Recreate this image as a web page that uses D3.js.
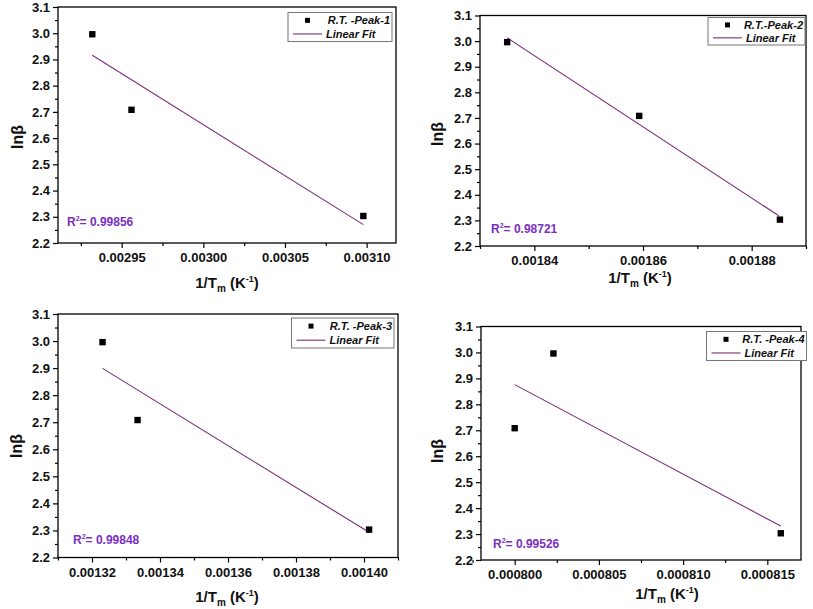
<!DOCTYPE html>
<html><head><meta charset="utf-8">
<script src="https://cdn.jsdelivr.net/npm/d3@7"></script>
<style>body{margin:0;background:#fff}svg{display:block}text{font-family:"Liberation Sans",Arial,sans-serif}</style>
</head><body>
<svg id="c" width="813" height="609"></svg>
<script>
// ---------- data ----------
const yTicks = [2.2, 2.3, 2.4, 2.5, 2.6, 2.7, 2.8, 2.9, 3.0, 3.1];
const yMinor = [2.25, 2.35, 2.45, 2.55, 2.65, 2.75, 2.85, 2.95, 3.05];

const peak1X = [0.002932, 0.002956, 0.003098];
const peak1Y = [2.996, 2.708, 2.303];
const peak1FitX = [0.002932, 0.003098];
const peak1FitY = [2.916, 2.270];
const peak1Ticks = [0.00295, 0.00300, 0.00305, 0.00310];
const peak1TickLabels = ["0.00295", "0.00300", "0.00305", "0.00310"];
const peak1Minor = [0.002925, 0.002975, 0.003025, 0.003075];
const peak1Domain = [0.002911, 0.003118];

const peak2X = [0.001835, 0.0018593, 0.0018852];
const peak2Y = [2.996, 2.708, 2.303];
const peak2FitX = [0.001835, 0.001885];
const peak2FitY = [3.013, 2.318];
const peak2Ticks = [0.00184, 0.00186, 0.00188];
const peak2TickLabels = ["0.00184", "0.00186", "0.00188"];
const peak2Minor = [0.00183, 0.00185, 0.00187, 0.00189];
const peak2Domain = [0.00183, 0.00189];

const peak3X = [0.0013231, 0.0013334, 0.0014015];
const peak3Y = [2.996, 2.708, 2.303];
const peak3FitX = [0.0013231, 0.0014015];
const peak3FitY = [2.899, 2.293];
const peak3Ticks = [0.00132, 0.00134, 0.00136, 0.00138, 0.00140];
const peak3TickLabels = ["0.00132", "0.00134", "0.00136", "0.00138", "0.00140"];
const peak3Minor = [0.00131, 0.00133, 0.00135, 0.00137, 0.00139, 0.00141];
const peak3Domain = [0.00131, 0.00141];

const peak4X = [0.0008000, 0.0008023, 0.0008158];
const peak4Y = [2.708, 2.996, 2.303];
const peak4FitX = [0.0008000, 0.0008158];
const peak4FitY = [2.876, 2.331];
const peak4Ticks = [0.000800, 0.000805, 0.000810, 0.000815];
const peak4TickLabels = ["0.000800", "0.000805", "0.000810", "0.000815"];
const peak4Minor = [0.0007975, 0.0008025, 0.0008075, 0.0008125];
const peak4Domain = [0.000798, 0.000817];

const seriesNames = ["R.T. -Peak-1", "R.T.-Peak-2", "R.T. -Peak-3", "R.T. -Peak-4"];
const fitName = "Linear Fit";
const r2Values = ["0.99856", "0.98721", "0.99848", "0.99526"];

// ---------- layout ----------
const panels = [
  {x: peak1X, y: peak1Y, fx: peak1FitX, fy: peak1FitY, ticks: peak1Ticks, labels: peak1TickLabels, minor: peak1Minor, domain: peak1Domain,
   box: [58, 7, 396, 243], leg: [288, 12.5, 392, 41.5], r2: [67, 226], yl: [18, 137], xt: [227, 288]},
  {x: peak2X, y: peak2Y, fx: peak2FitX, fy: peak2FitY, ticks: peak2Ticks, labels: peak2TickLabels, minor: peak2Minor, domain: peak2Domain,
   box: [480, 15.5, 806, 246], leg: [708, 17.5, 805, 45], r2: [491, 233], yl: [438, 134], xt: [640, 283]},
  {x: peak3X, y: peak3Y, fx: peak3FitX, fy: peak3FitY, ticks: peak3Ticks, labels: peak3TickLabels, minor: peak3Minor, domain: peak3Domain,
   box: [58, 314, 398, 557.5], leg: [291.5, 318, 394, 348], r2: [73, 543.5], yl: [17, 446], xt: [227, 602]},
  {x: peak4X, y: peak4Y, fx: peak4FitX, fy: peak4FitY, ticks: peak4Ticks, labels: peak4TickLabels, minor: peak4Minor, domain: peak4Domain,
   box: [481, 326.5, 801, 560], leg: [706.5, 331.5, 806.5, 360.5], r2: [493, 548], yl: [438, 451], xt: [667, 599]}
];

const svg = d3.select("#c");
const lineColor = "#7a2d7a";
const r2Color = "#7a2fc2";

panels.forEach((p, i) => {
  const [x0, y0, x1, y1] = p.box;
  const xs = d3.scaleLinear().domain(p.domain).range([x0, x1]);
  const ys = d3.scaleLinear().domain([2.2, 3.1]).range([y1, y0]);
  const g = svg.append("g");

  // frame
  g.append("rect").attr("x", x0).attr("y", y0).attr("width", x1 - x0).attr("height", y1 - y0)
    .attr("fill", "none").attr("stroke", "#000").attr("stroke-width", 1.3);

  // x axis
  const xa = g.append("g").attr("transform", `translate(0,${y1})`)
    .call(d3.axisBottom(xs).tickValues(p.ticks).tickFormat((d, k) => p.labels[k]).tickSize(5).tickSizeOuter(0).tickPadding(5));
  const xm = g.append("g").attr("transform", `translate(0,${y1})`)
    .call(d3.axisBottom(xs).tickValues(p.minor).tickFormat("").tickSize(3).tickSizeOuter(0));
  // y axis
  const ya = g.append("g").attr("transform", `translate(${x0},0)`)
    .call(d3.axisLeft(ys).tickValues(yTicks).tickFormat(d3.format(".1f")).tickSize(5).tickSizeOuter(0).tickPadding(3));
  const ym = g.append("g").attr("transform", `translate(${x0},0)`)
    .call(d3.axisLeft(ys).tickValues(yMinor).tickFormat("").tickSize(3).tickSizeOuter(0));
  [xa, xm, ya, ym].forEach(a => {
    a.select(".domain").remove();
    a.selectAll("line").attr("stroke", "#000").attr("stroke-width", 1.2);
    a.selectAll("text").attr("font-size", 13).attr("font-weight", "bold").attr("fill", "#111")
      .attr("font-family", '"Liberation Sans",Arial,sans-serif');
  });

  // fit line
  const fitPts = p.fx.map((v, k) => [v, p.fy[k]]);
  g.append("path").datum(fitPts)
    .attr("d", d3.line().x(d => xs(d[0])).y(d => ys(d[1])))
    .attr("fill", "none").attr("stroke", lineColor).attr("stroke-width", 1.1);

  // points
  const pts = p.x.map((v, k) => [v, p.y[k]]);
  g.selectAll(".pt").data(pts).join("rect")
    .attr("x", d => xs(d[0]) - 3.2).attr("y", d => ys(d[1]) - 3.2)
    .attr("width", 6.4).attr("height", 6.4).attr("fill", "#000");

  // legend
  const [lx0, ly0, lx1, ly1] = p.leg;
  g.append("rect").attr("x", lx0).attr("y", ly0).attr("width", lx1 - lx0).attr("height", ly1 - ly0)
    .attr("fill", "#fff").attr("stroke", "#777").attr("stroke-width", 1);
  const r1 = ly0 + (ly1 - ly0) * 0.27, r2y = ly0 + (ly1 - ly0) * 0.74;
  g.append("rect").attr("x", lx0 + 17).attr("y", r1 - 2.5).attr("width", 5).attr("height", 5).attr("fill", "#000");
  g.append("text").attr("x", lx1 - 2).attr("y", r1 + 4).attr("text-anchor", "end")
    .attr("font-size", 11).attr("font-weight", "bold").attr("font-style", "italic").attr("fill", "#111")
    .text(seriesNames[i]);
  g.append("line").attr("x1", lx0 + 5).attr("x2", lx0 + 34).attr("y1", r2y).attr("y2", r2y)
    .attr("stroke", lineColor).attr("stroke-width", 1.1);
  g.append("text").attr("x", lx0 + 38).attr("y", r2y + 4)
    .attr("font-size", 11).attr("font-weight", "bold").attr("font-style", "italic").attr("fill", "#111")
    .text(fitName);

  // R^2
  const rt = g.append("text").attr("x", p.r2[0]).attr("y", p.r2[1])
    .attr("font-size", 12).attr("font-weight", "bold").attr("fill", r2Color);
  rt.append("tspan").text("R");
  rt.append("tspan").attr("dy", -5).attr("font-size", 7).text("2");
  rt.append("tspan").attr("dy", 5).text("= " + r2Values[i]);

  // y label
  g.append("text").attr("transform", `translate(${p.yl[0] + 5},${p.yl[1]}) rotate(-90)`)
    .attr("text-anchor", "middle").attr("font-size", 16).attr("font-weight", "bold").attr("fill", "#111")
    .text("lnβ");

  // x title
  const xt = g.append("text").attr("x", p.xt[0]).attr("y", p.xt[1]).attr("text-anchor", "middle")
    .attr("font-size", 15).attr("font-weight", "bold").attr("fill", "#111");
  xt.append("tspan").text("1/T");
  xt.append("tspan").attr("dy", 4).attr("font-size", 10).text("m");
  xt.append("tspan").attr("dy", -4).text(" (K");
  xt.append("tspan").attr("dy", -6).attr("font-size", 9).text("-1");
  xt.append("tspan").attr("dy", 6).text(")");
});
</script>
</body></html>
